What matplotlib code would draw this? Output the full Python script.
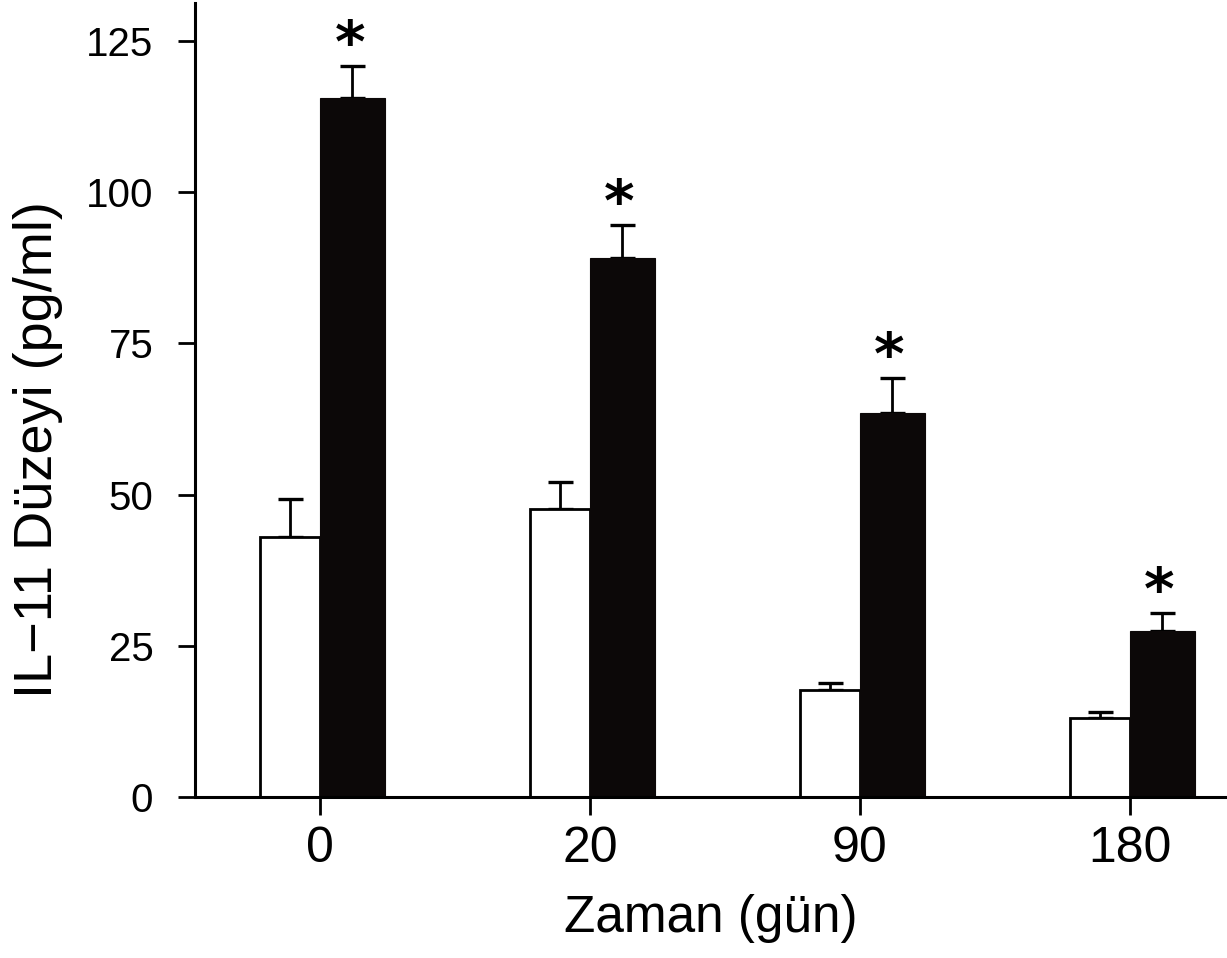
import numpy as np
import matplotlib
matplotlib.use("Agg")
import matplotlib.pyplot as plt

plt.rcParams['font.family'] = ['Liberation Sans', 'DejaVu Sans']

# data
days = ['0', '20', '90', '180']
control = [43.0, 47.6, 17.7, 13.0]
control_err = [6.2, 4.5, 1.1, 1.0]
patient = [115.6, 89.1, 63.5, 27.4]
patient_err = [5.3, 5.5, 5.8, 3.0]
yticks = [0, 25, 50, 75, 100, 125]

fig = plt.figure(figsize=(12.27, 9.58), dpi=100)
ax = fig.add_axes([195/1227, 161/958, 1 - 195/1227, 794/958])

x = np.arange(len(days))
ax.bar(x, control, width=-0.222, align='edge', color='white',
       edgecolor='black', linewidth=2, zorder=2)
ax.errorbar(x - 0.111, control, yerr=[np.zeros(4), control_err], fmt='none',
            ecolor='black', elinewidth=2, capsize=9, capthick=2.4, zorder=1)
ax.bar(x, patient, width=0.24, align='edge', color='#0c0808',
       edgecolor='#0c0808', linewidth=0.8, zorder=2)
ax.errorbar(x + 0.12, patient, yerr=[np.zeros(4), patient_err], fmt='none',
            ecolor='black', elinewidth=2, capsize=9, capthick=2.4, zorder=1)

# significance marks
for xi, p, e in zip(x, patient, patient_err):
    ax.annotate('*', (xi + 0.11, p + e), xytext=(0, 3), textcoords='offset points',
                ha='center', va='baseline', fontsize=42, fontweight='bold',
                family='DejaVu Sans')

ax.set_xlim(-0.463, 3.36)
ax.set_ylim(0, 131.3)
ax.set_xticks(x)
ax.set_xticklabels(days, fontsize=36)
ax.set_yticks(yticks)
ax.set_yticklabels([str(v) for v in yticks], fontsize=29)
ax.tick_params(axis='x', length=13, width=2, pad=8)
ax.tick_params(axis='y', length=12, width=2, pad=18)
ax.spines['top'].set_visible(False)
ax.spines['right'].set_visible(False)
ax.spines['left'].set_linewidth(2.2)
ax.spines['bottom'].set_linewidth(2.2)

ax.set_xlabel('Zaman (gün)', fontsize=37, labelpad=16)
ax.set_ylabel('IL\u221211 Düzeyi (pg/ml)', fontsize=39)
ax.yaxis.set_label_coords(-0.128, 0.437)

fig.savefig('out.png', dpi=100)
